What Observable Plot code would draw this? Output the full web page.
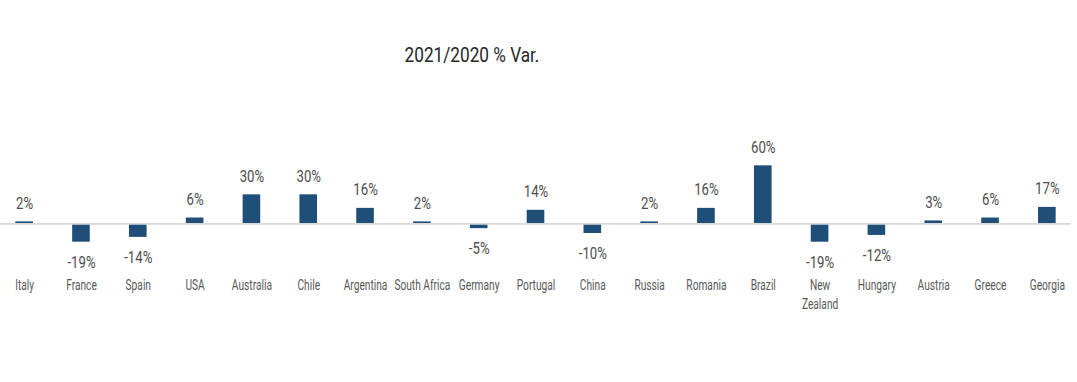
<!DOCTYPE html>
<html>
<head>
<meta charset="utf-8">
<script src="https://cdn.jsdelivr.net/npm/d3@7"></script>
<script src="https://cdn.jsdelivr.net/npm/@observablehq/plot@0.6"></script>
<style>
  html, body { margin: 0; padding: 0; background: #fff; }
  #wrap { position: relative; width: 1077px; height: 382px; overflow: hidden; }
  #title {
    position: absolute; top: 43px; left: 372px; width: 200px; text-align: center;
    font-family: Roboto, "Liberation Sans", sans-serif;
    font-size: 20px; color: #262626; line-height: 24px;
    transform: scaleX(0.86); transform-origin: 100px 0;
  }
  #chart { position: absolute; top: 0; left: 0; }
</style>
</head>
<body>
<div id="wrap">
  <div id="chart"></div>
  <div id="title">2021/2020 % Var.</div>
</div>
<script>
const countries = ["Italy", "France", "Spain", "USA", "Australia", "Chile", "Argentina", "South Africa", "Germany", "Portugal", "China", "Russia", "Romania", "Brazil", "New Zealand", "Hungary", "Austria", "Greece", "Georgia"];
const variation = [2, -19, -14, 6, 30, 30, 16, 2, -5, 14, -10, 2, 16, 60, -19, -12, 3, 6, 17];
const tickLabels = {"New Zealand": "New\nZealand"};

const data = countries.map((c, i) => ({country: c, value: variation[i]}));
const pos = data.filter(d => d.value >= 0);
const neg = data.filter(d => d.value < 0);
const font = 'Roboto, "Liberation Sans", sans-serif';

const chart = Plot.plot({
  width: 1077,
  height: 382,
  marginLeft: 0,
  marginRight: 6,
  marginTop: 146,
  marginBottom: 120,
  style: {fontFamily: font, background: "#fff"},
  x: {domain: countries, paddingInner: 0.69, paddingOuter: 0.27, round: false, label: null},
  y: {domain: [-40, 80], axis: null},
  marks: [
    Plot.barY(data, {x: "country", y: "value", fill: "#1f4e79"}),
    Plot.ruleY([0], {stroke: "#d9d9d9", strokeWidth: 1.6}),
    Plot.text(pos, {x: "country", y: "value", text: d => d.value + "%", lineAnchor: "bottom", dy: -13, fontSize: 16.5, fill: "#4d4d4d"}),
    Plot.text(neg, {x: "country", y: "value", text: d => d.value + "%", lineAnchor: "top", dy: 14, fontSize: 16.5, fill: "#4d4d4d"}),
    Plot.axisX({tickSize: 0, tickPadding: 14, fontSize: 15, fill: "#595959", lineHeight: 1.25, label: null,
      tickFormat: d => tickLabels[d] ?? d})
  ]
});
// condense the glyphs horizontally around each text's own anchor
chart.querySelectorAll("g[aria-label='x-axis tick label'] text").forEach(t => {
  t.setAttribute("transform", (t.getAttribute("transform") || "") + " scale(0.68,1)");
});
chart.querySelectorAll("g[aria-label='text'] text").forEach(t => {
  t.setAttribute("transform", (t.getAttribute("transform") || "") + " scale(0.8,1)");
});
document.getElementById("chart").append(chart);
</script>
</body>
</html>
